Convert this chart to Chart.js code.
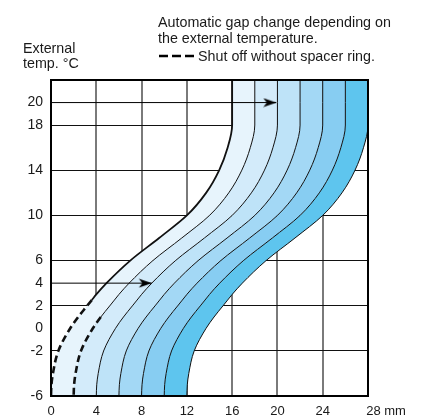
<!DOCTYPE html>
<html>
<head>
<meta charset="utf-8">
<title>Automatic gap change</title>
<script src="https://cdn.jsdelivr.net/npm/chart.js"></script>
<style>
    html, body { margin: 0; padding: 0; background: #fff; overflow: hidden; }
    #wrap { width: 442px; height: 416px; position: relative; }
</style>
</head>
<body>
<div id="wrap"><canvas id="gapChart"></canvas></div>
<script>
// External temperature levels shared by every curve (°C)
const CURVE_Y = [-6, -5, -4, -2, 0, 1, 2, 2.5, 3, 4, 6, 8, 10, 12, 14, 16, 18, 20, 22];

// Gap (mm) of each boundary curve at those temperatures
const CURVE_0 = [0, 0.04, 0.17, 0.65, 1.7, 2.4, 3.2, 3.6, 4.0, 4.9, 7.0, 9.55, 12.0, 13.7, 14.85, 15.6, 16, 16, 16];
const CURVE_1 = [2, 2.04, 2.17, 2.65, 3.7, 4.4, 5.2, 5.6, 6.0, 6.9, 9.0, 11.55, 14.0, 15.7, 16.85, 17.6, 18, 18, 18];
const CURVE_2 = [4, 4.04, 4.17, 4.65, 5.7, 6.4, 7.2, 7.6, 8.0, 8.9, 11.0, 13.55, 16.0, 17.7, 18.85, 19.6, 20, 20, 20];
const CURVE_3 = [6, 6.04, 6.17, 6.65, 7.7, 8.4, 9.2, 9.6, 10.0, 10.9, 13.0, 15.55, 18.0, 19.7, 20.85, 21.6, 22, 22, 22];
const CURVE_4 = [8, 8.04, 8.17, 8.65, 9.7, 10.4, 11.2, 11.6, 12.0, 12.9, 15.0, 17.55, 20.0, 21.7, 22.85, 23.6, 24, 24, 24];
const CURVE_5 = [10, 10.04, 10.17, 10.65, 11.7, 12.4, 13.2, 13.6, 14.0, 14.9, 17.0, 19.55, 22.0, 23.7, 24.85, 25.6, 26, 26, 26];
const CURVE_6 = [12, 12.04, 12.17, 12.65, 13.7, 14.4, 15.2, 15.6, 16.0, 16.9, 19.0, 21.55, 24.0, 25.7, 26.85, 27.6, 28, 28, 28];

// Dashed part ("shut off without spacer ring") ends at this temperature
const DASH_UNTIL = [2.5, 1];

// Arrows: temperature, start gap, tip gap
const ARROW_Y = [20, 4];
const ARROW_FROM = [0, 0];
const ARROW_TO = [19.9, 8.9];

// Axis ticks
const X_TICKS = [0, 4, 8, 12, 16, 20, 24, 28];
const Y_TICKS = [-6, -2, 0, 2, 4, 6, 10, 14, 18, 20];
const Y_NO_GRID = [-6, 0, 4, 20];

const BAND_COLORS = ['#e7f4fc', '#d3ebfa', '#bee3f8', '#a3d8f5', '#87cdf2', '#5ec5ee'];

const FONT = '"Liberation Sans", Arial, sans-serif';

// points run from the top of the chart down, so pixel y grows along the line
// (the filler between lines expects growing pixels along the index axis)
function toPoints(xs) {
    return xs.map((x, i) => ({ x: x, y: CURVE_Y[i] })).reverse();
}

// Small arrowhead used as point style, tip sits at the canvas centre
function makeArrowHead() {
    const c = document.createElement('canvas');
    c.width = 28;
    c.height = 10;
    const g = c.getContext('2d');
    g.fillStyle = '#000';
    g.beginPath();
    g.moveTo(14, 5);
    g.lineTo(1, 0.5);
    g.lineTo(4.5, 5);
    g.lineTo(1, 9.5);
    g.closePath();
    g.fill();
    return c;
}

function isDashed(ctx, dashTo) {
    return dashTo !== undefined && Math.max(ctx.p0.parsed.y, ctx.p1.parsed.y) <= dashTo;
}

const curves = [CURVE_0, CURVE_1, CURVE_2, CURVE_3, CURVE_4, CURVE_5, CURVE_6];
const datasets = curves.map((xs, i) => {
    const dashTo = DASH_UNTIL[i];
    return {
        data: toPoints(xs),
        borderColor: '#111',
        borderWidth: i === 0 ? 1.8 : 1,
        backgroundColor: i === 0 ? 'transparent' : BAND_COLORS[i - 1],
        fill: i === 0 ? false : '-1',
        pointRadius: 0,
        cubicInterpolationMode: 'monotone',
        segment: {
            borderDash: ctx => isDashed(ctx, dashTo) ? [7, 4] : undefined,
            borderWidth: ctx => isDashed(ctx, dashTo) ? 2.6 : undefined
        }
    };
});

const arrowHead = makeArrowHead();
ARROW_Y.forEach((y, i) => {
    datasets.push({
        data: [{ x: ARROW_FROM[i], y: y }, { x: ARROW_TO[i], y: y }],
        borderColor: '#000',
        borderWidth: 1,
        fill: false,
        tension: 0,
        pointRadius: [0, 5],
        pointStyle: arrowHead,
        order: -1
    });
});

const annotations = {
    id: 'annotations',
    afterDraw(chart) {
        const c = chart.ctx;
        const a = chart.chartArea;
        c.save();
        c.strokeStyle = '#000';
        c.lineWidth = 2;
        c.strokeRect(a.left, a.top, a.right - a.left, a.bottom - a.top);

        c.fillStyle = '#1a1a1a';
        c.font = '14.3px ' + FONT;
        c.textBaseline = 'alphabetic';
        c.textAlign = 'left';
        c.fillText('Automatic gap change depending on', 158, 26.5);
        c.fillText('the external temperature.', 158, 42.5);
        c.fillText('Shut off without spacer ring.', 198, 61);
        c.fillText('External', 23, 52.5);
        c.fillText('temp. °C', 23, 68);

        c.lineWidth = 2.6;
        c.setLineDash([9, 4]);
        c.beginPath();
        c.moveTo(159, 56);
        c.lineTo(194, 56);
        c.stroke();
        c.restore();
    }
};

const ctx = document.getElementById('gapChart').getContext('2d');
new Chart(ctx, {
    type: 'line',
    data: { datasets: datasets },
    options: {
        indexAxis: 'y',
        responsive: true,
        maintainAspectRatio: false,
        animation: false,
        events: [],
        layout: { padding: { top: 80, right: 74, left: 0, bottom: 0 } },
        plugins: {
            legend: { display: false },
            tooltip: { enabled: false },
            filler: { propagate: false }
        },
        scales: {
            x: {
                type: 'linear',
                position: 'bottom',
                min: 0,
                max: 28,
                z: 1,
                afterBuildTicks: s => { s.ticks = X_TICKS.map(v => ({ value: v })); },
                afterFit: s => { s.height = 20; },
                border: { display: false },
                grid: { drawTicks: false, color: '#7a7a7a', lineWidth: 2 },
                ticks: {
                    autoSkip: false,
                    maxRotation: 0,
                    minRotation: 0,
                    padding: 8,
                    color: '#1a1a1a',
                    font: { family: FONT, size: 13 },
                    callback: v => v === 28 ? '          28 mm' : String(v)
                }
            },
            y: {
                type: 'linear',
                position: 'left',
                min: -6,
                max: 22,
                z: 1,
                afterBuildTicks: s => { s.ticks = Y_TICKS.map(v => ({ value: v })); },
                afterFit: s => { s.width = 51; },
                border: { display: false },
                grid: {
                    drawTicks: false,
                    lineWidth: 1,
                    color: c => (c.tick && Y_NO_GRID.includes(c.tick.value)) ? 'rgba(0,0,0,0)' : '#111'
                },
                ticks: {
                    autoSkip: false,
                    padding: 8,
                    color: '#1a1a1a',
                    font: { family: FONT, size: 14 }
                }
            }
        }
    },
    plugins: [annotations]
});
</script>
</body>
</html>
